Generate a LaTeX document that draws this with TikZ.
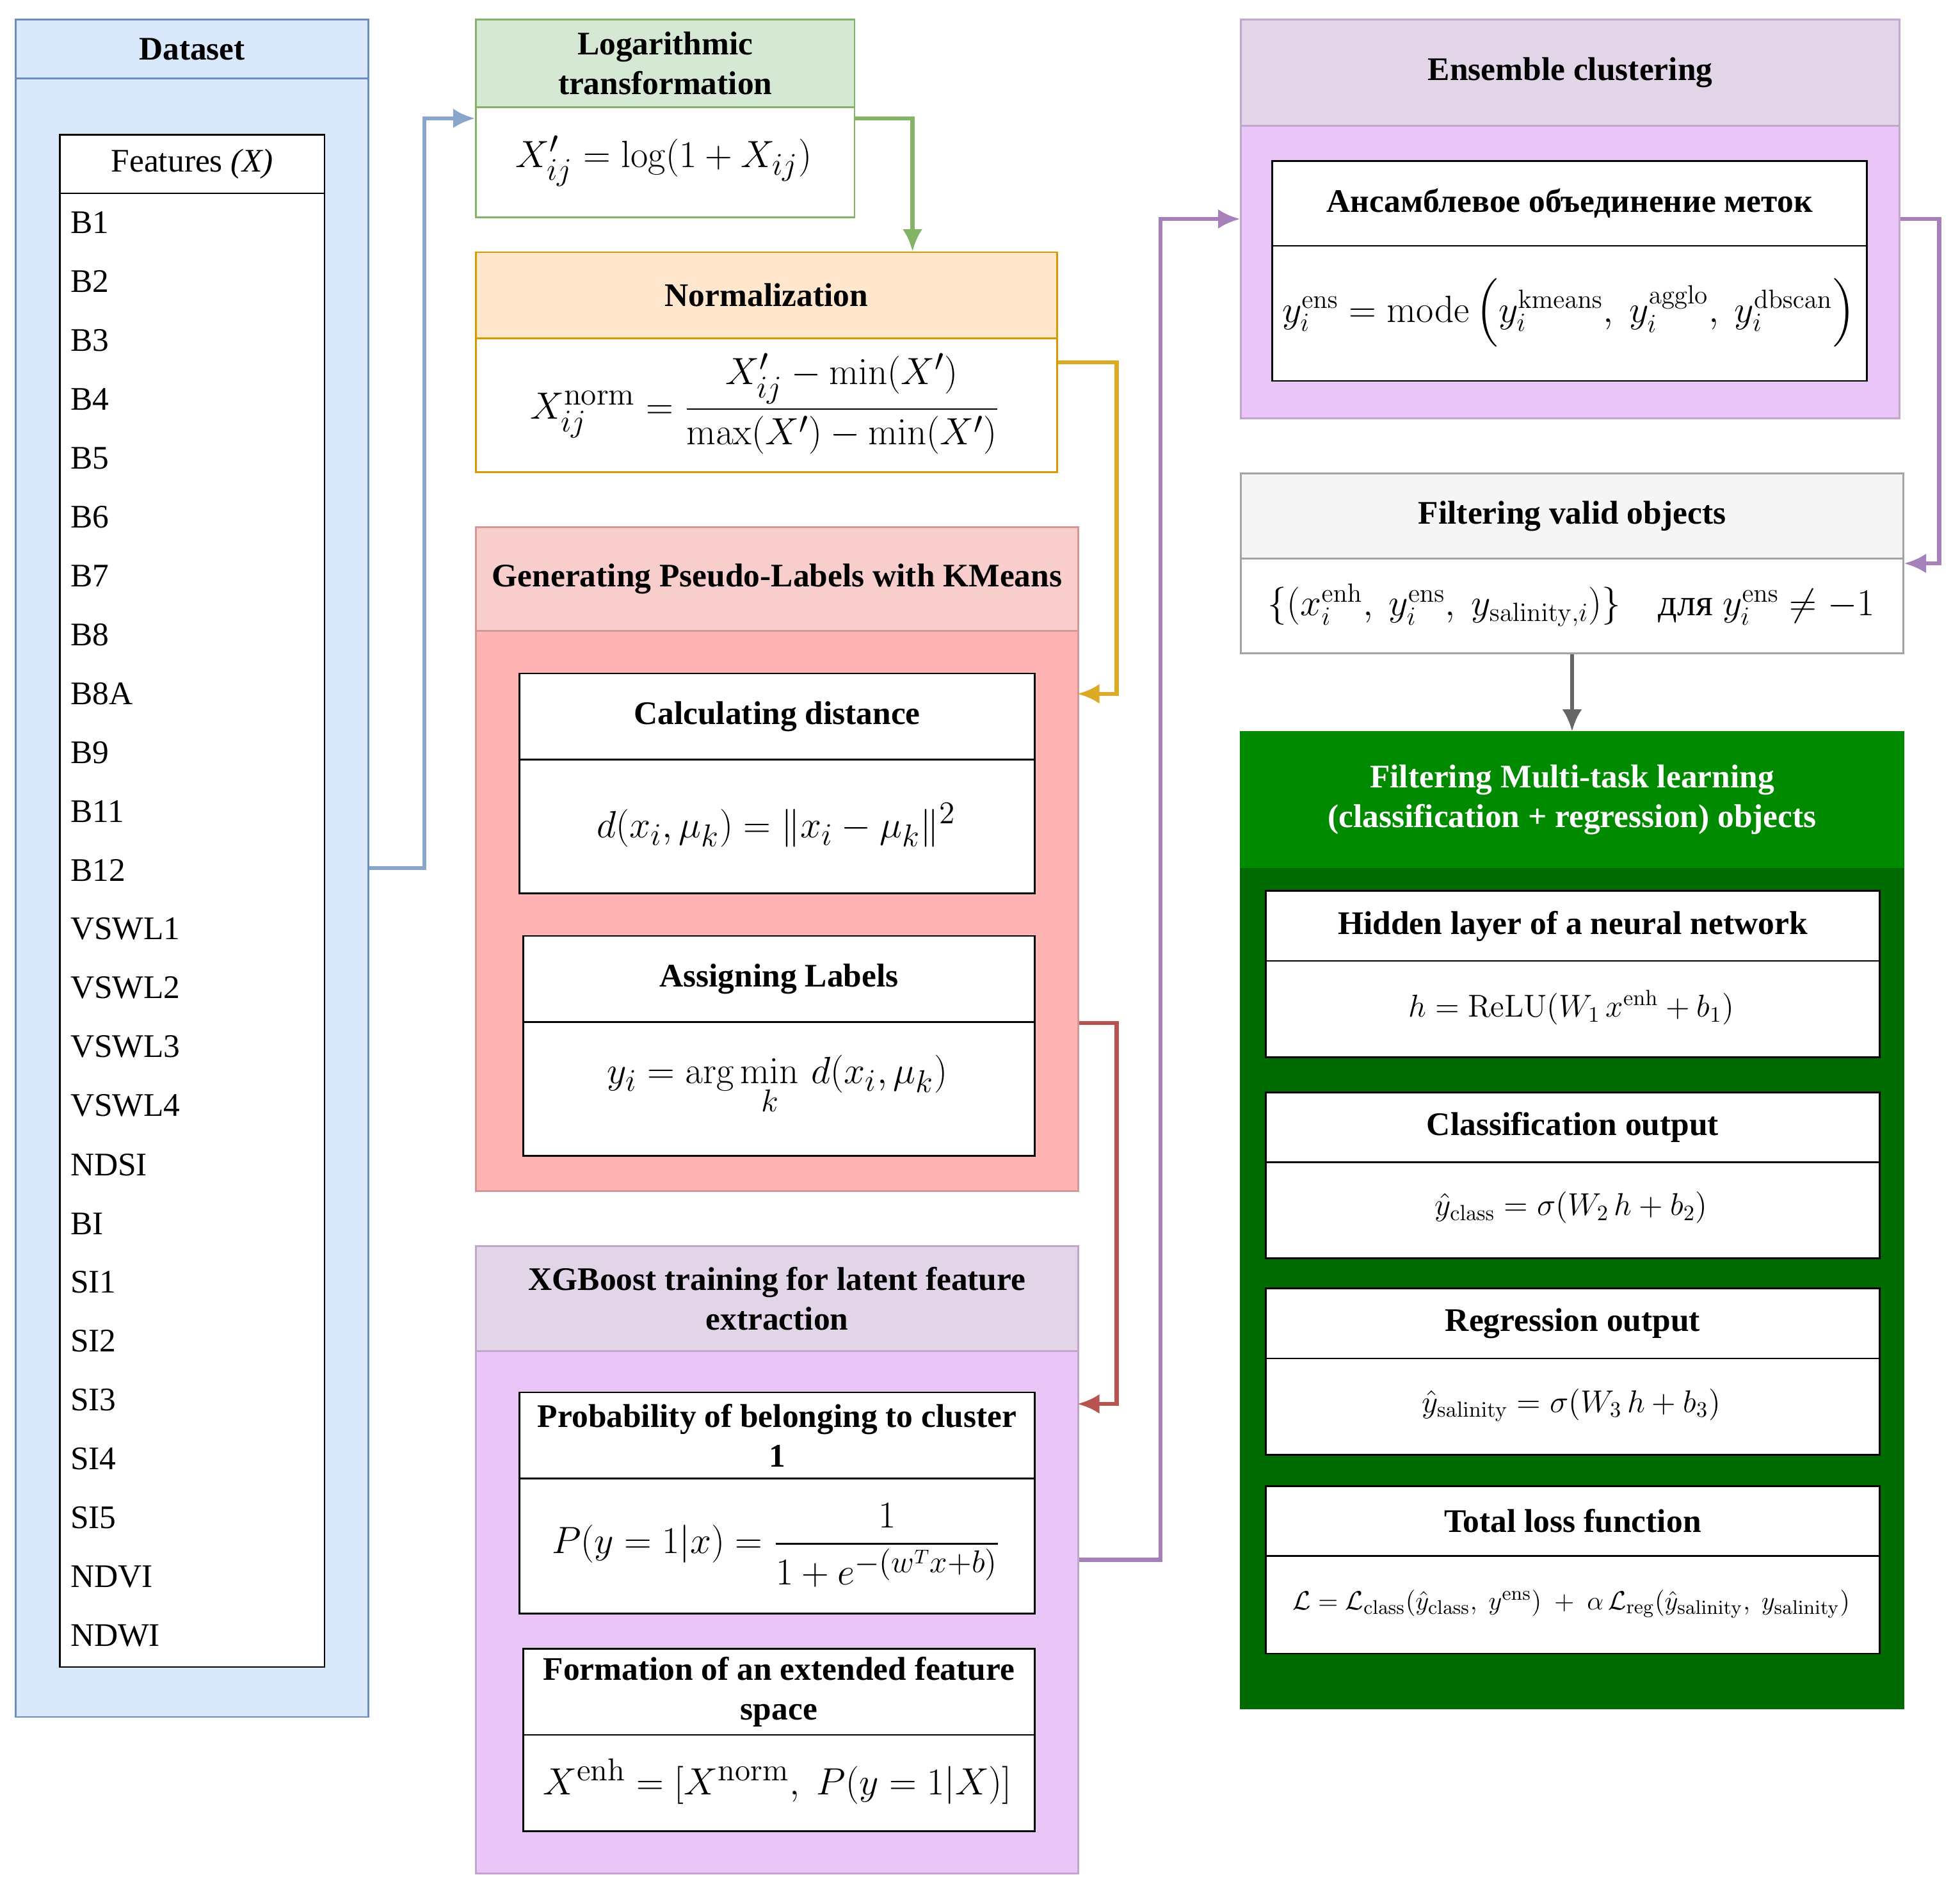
\documentclass[tikz,border=0pt]{standalone}
\usepackage{amsmath}
\usepackage[no-math]{fontspec}
\setmainfont{Liberation Serif}
\usetikzlibrary{arrows.meta,positioning}
\definecolor{dsfill}{HTML}{DAE8FC}
\definecolor{dsline}{HTML}{6C8EBF}
\definecolor{lgfill}{HTML}{D5E8D4}
\definecolor{lgline}{HTML}{82B366}
\definecolor{nmfill}{HTML}{FFE6CC}
\definecolor{nmline}{HTML}{D79B00}
\definecolor{kmhead}{HTML}{F8CECC}
\definecolor{kmfill}{HTML}{FFB3B3}
\definecolor{kmline}{HTML}{B85450}
\definecolor{pphead}{HTML}{E1D5E7}
\definecolor{ppfill}{HTML}{E9C6F7}
\definecolor{ppline}{HTML}{A680B8}
\definecolor{gyfill}{HTML}{F5F5F5}
\definecolor{gyline}{HTML}{666666}
\definecolor{mthead}{HTML}{008A00}
\definecolor{mtfill}{HTML}{006B00}
\newcommand\hdrfont{\fontsize{15}{18}\selectfont\bfseries}
\newcommand\itmfont{\fontsize{15}{18}\selectfont}
\newcommand\frmfont{\fontsize{19}{23}\selectfont}
\newcommand\smfont{\fontsize{14}{17}\selectfont}
\tikzset{
  box/.style={
    draw,
    rectangle,
    anchor=north west,
    inner sep=0pt,
    line width=0.8pt
  },
  hdr/.style={
    box,
    align=center,
    font=\hdrfont
  },
  frm/.style={
    font=\frmfont
  },
  flow/.style={
    line width=1.8pt,
    -{Latex[length=10pt,width=9pt]}
  }
}
\begin{document}
\begin{tikzpicture}[x=0.02cm, y=-0.02cm]
  \useasboundingbox (0,0) rectangle (1568,1514);

  % dataset
  \node [box, draw=dsline, fill=dsfill, minimum width=5.64cm, minimum height=27.16cm] (ds) at (12,15) {};
  \node [hdr, draw=dsline, fill=dsfill, minimum width=5.64cm, minimum height=0.94cm] (ds-h) at (12,15) {Dataset};
  \node [box, fill=white, minimum width=4.24cm, minimum height=24.52cm] (feat) at (47,107) {};
  \node [box, fill=white, font=\itmfont, minimum width=4.24cm, minimum height=0.94cm] (feat-h) at (47,107) {Features \textit{(X)}};
  \foreach \t [count=\i from 0] in {B1,B2,B3,B4,B5,B6,B7,B8,B8A,B9,B11,B12,VSWL1,VSWL2,VSWL3,VSWL4,NDSI,BI,SI1,SI2,SI3,SI4,SI5,NDVI,NDWI}
    \node [anchor=west, font=\itmfont, inner sep=0pt] (f\i) at (56,{178+47.1*\i}) {\t};

  % logarithmic transformation
  \node [box, draw=lgline, fill=white, minimum width=6.06cm, minimum height=3.16cm] (log) at (380,15) {};
  \node [hdr, draw=lgline, fill=lgfill, minimum width=6.06cm, minimum height=1.4cm] (log-h) at (380,15) {Logarithmic\\transformation};
  \node [frm] (log-f) at (531,129) {$X'_{ij} = \log(1+X_{ij})$};

  % normalization
  \node [box, draw=nmline, fill=white, minimum width=9.3cm, minimum height=3.52cm] (norm) at (380,201) {};
  \node [hdr, draw=nmline, fill=nmfill, minimum width=9.3cm, minimum height=1.38cm] (norm-h) at (380,201) {Normalization};
  \node [frm] (norm-f) at (612,323) {$X^{\mathrm{norm}}_{ij} = \dfrac{X'_{ij}-\min(X')}{\max(X')-\min(X')}$};

  % kmeans
  \node [box, draw=kmline!60, fill=kmfill, minimum width=9.64cm, minimum height=10.62cm] (km) at (380,421) {};
  \node [hdr, draw=kmline!60, fill=kmhead, minimum width=9.64cm, minimum height=1.66cm] (km-h) at (380,421) {Generating Pseudo-Labels with KMeans};
  \node [box, fill=white, minimum width=8.24cm, minimum height=3.52cm] (calc) at (415,538) {};
  \node [hdr, fill=white, minimum width=8.24cm, minimum height=1.38cm] (calc-h) at (415,538) {Calculating distance};
  \node [frm] (calc-f) at (621,660) {$d(x_i,\mu_k) = \|x_i-\mu_k\|^2$};
  \node [box, fill=white, minimum width=8.18cm, minimum height=3.52cm] (asg) at (418,748) {};
  \node [hdr, fill=white, minimum width=8.18cm, minimum height=1.38cm] (asg-h) at (418,748) {Assigning Labels};
  \node [frm] (asg-f) at (622,868) {$y_i = \arg\min\limits_k\, d(x_i,\mu_k)$};

  % xgboost
  \node [box, draw=ppline!70, fill=ppfill, minimum width=9.64cm, minimum height=10.04cm] (xgb) at (380,996) {};
  \node [hdr, draw=ppline!70, fill=pphead, minimum width=9.64cm, minimum height=1.68cm] (xgb-h) at (380,996) {XGBoost training for latent feature\\extraction};
  \node [box, fill=white, minimum width=8.24cm, minimum height=3.54cm] (prob) at (415,1113) {};
  \node [hdr, fill=white, minimum width=8.24cm, minimum height=1.38cm] (prob-h) at (415,1113) {Probability of belonging to cluster\\1};
  \node [frm] (prob-f) at (621,1236) {$P(y=1|x) = \dfrac{1}{1+e^{-(w^Tx+b)}}$};
  \node [box, fill=white, minimum width=8.18cm, minimum height=2.92cm] (form) at (418,1318) {};
  \node [hdr, fill=white, minimum width=8.18cm, minimum height=1.38cm] (form-h) at (418,1318) {Formation of an extended feature\\space};
  \node [frm] (form-f) at (622,1425) {$X^{\mathrm{enh}} = [X^{\mathrm{norm}},\ P(y=1|X)]$};

  % ensemble clustering
  \node [box, draw=ppline!70, fill=ppfill, minimum width=10.54cm, minimum height=6.38cm] (ens) at (992,15) {};
  \node [hdr, draw=ppline!70, fill=pphead, minimum width=10.54cm, minimum height=1.7cm] (ens-h) at (992,15) {Ensemble clustering};
  \node [box, fill=white, minimum width=9.52cm, minimum height=3.52cm] (vote) at (1017,128) {};
  \node [hdr, fill=white, minimum width=9.52cm, minimum height=1.36cm] (vote-h) at (1017,128) {Ансамблевое объединение меток};
  \node [font=\fontsize{17}{20}\selectfont] (vote-f) at (1255,250) {$y_i^{\mathrm{ens}} = \mathrm{mode}\left(y_i^{\mathrm{kmeans}},\ y_i^{\mathrm{agglo}},\ y_i^{\mathrm{dbscan}}\right)$};

  % filtering
  \node [box, draw=gyline!60, fill=white, minimum width=10.6cm, minimum height=2.88cm] (filt) at (992,378) {};
  \node [hdr, draw=gyline!60, fill=gyfill, minimum width=10.6cm, minimum height=1.36cm] (filt-h) at (992,378) {Filtering valid objects};
  \node [font=\fontsize{17}{20}\selectfont] (filt-f) at (1257,484) {$\{(x_i^{\mathrm{enh}},\ y_i^{\mathrm{ens}},\ y_{\mathrm{salinity},i})\}$\quad для $y_i^{\mathrm{ens}}\neq-1$};

  % multi-task learning
  \node [box, draw=mtfill, fill=mtfill, minimum width=10.6cm, minimum height=15.62cm] (mt) at (992,585) {};
  \node [hdr, draw=mthead, fill=mthead, text=white, minimum width=10.6cm, minimum height=2.16cm] (mt-h) at (992,585) {Filtering Multi-task learning\\(classification + regression) objects};
  \node [box, fill=white, minimum width=9.82cm, minimum height=2.66cm] (hid) at (1012,712) {};
  \node [hdr, fill=white, minimum width=9.82cm, minimum height=1.12cm] (hid-h) at (1012,712) {Hidden layer of a neural network};
  \node [font=\smfont] (hid-f) at (1257,806) {$h = \mathrm{ReLU}(W_1\,x^{\mathrm{enh}}+b_1)$};
  \node [box, fill=white, minimum width=9.82cm, minimum height=2.66cm] (cls) at (1012,873) {};
  \node [hdr, fill=white, minimum width=9.82cm, minimum height=1.12cm] (cls-h) at (1012,873) {Classification output};
  \node [font=\smfont] (cls-f) at (1257,966) {$\hat y_{\mathrm{class}} = \sigma(W_2\,h+b_2)$};
  \node [box, fill=white, minimum width=9.82cm, minimum height=2.66cm] (reg) at (1012,1030) {};
  \node [hdr, fill=white, minimum width=9.82cm, minimum height=1.12cm] (reg-h) at (1012,1030) {Regression output};
  \node [font=\smfont] (reg-f) at (1257,1124) {$\hat y_{\mathrm{salinity}} = \sigma(W_3\,h+b_3)$};
  \node [box, fill=white, minimum width=9.82cm, minimum height=2.68cm] (loss) at (1012,1188) {};
  \node [hdr, fill=white, minimum width=9.82cm, minimum height=1.12cm] (loss-h) at (1012,1188) {Total loss function};
  \node [font=\fontsize{12.5}{15}\selectfont] (loss-f) at (1257,1283) {$\mathcal{L} = \mathcal{L}_{\mathrm{class}}(\hat y_{\mathrm{class}},\ y^{\mathrm{ens}})\ +\ \alpha\,\mathcal{L}_{\mathrm{reg}}(\hat y_{\mathrm{salinity}},\ y_{\mathrm{salinity}})$};

  \coordinate (norm-in) at (730,201);
  \coordinate (km-in) at (862,555);
  \coordinate (xgb-in) at (862,1123);

  \draw [flow, draw=dsline!80] (ds.east) -- ++(44,0) |- (log.west);
  \draw [flow, draw=lgline] (log.east) -| (norm-in);
  \draw [flow, draw=nmline!85] (norm.east) -- ++(47,0) |- (km-in);
  \draw [flow, draw=kmline] (km.east |- asg-h.south) -- ++(30,0) |- (xgb-in);
  \draw [flow, draw=ppline] (xgb.east) -- ++(65,0) |- (ens.west);
  \draw [flow, draw=ppline] (ens.east) -- ++(31,0) |- (filt.east);
  \draw [flow, draw=gyline] (filt.south) -- (mt.north);
\end{tikzpicture}
\end{document}
